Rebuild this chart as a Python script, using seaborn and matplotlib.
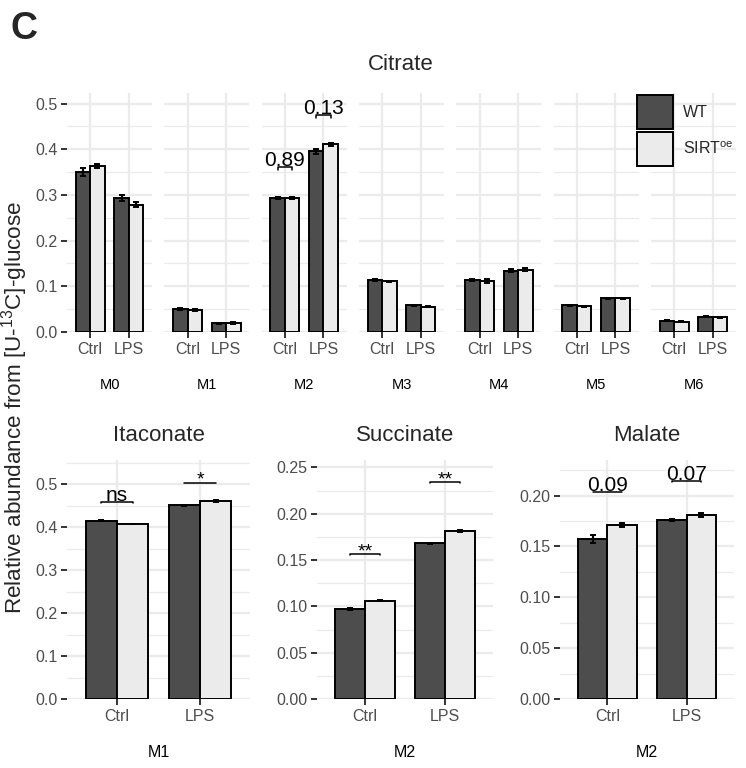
import numpy as np
import pandas as pd
import matplotlib
matplotlib.use('Agg')
import matplotlib.pyplot as plt
import seaborn as sns
from matplotlib.patches import Patch
from matplotlib.ticker import MultipleLocator

# data (mean and standard error)
conditions = ['Ctrl', 'LPS']
genotypes = ['WT', 'SIRToe']
isotopologues = ['M0', 'M1', 'M2', 'M3', 'M4', 'M5', 'M6']

citrate_wt_ctrl = [0.350, 0.050, 0.293, 0.114, 0.114, 0.058, 0.025]
citrate_oe_ctrl = [0.363, 0.048, 0.293, 0.111, 0.112, 0.056, 0.022]
citrate_wt_lps = [0.293, 0.019, 0.395, 0.058, 0.134, 0.074, 0.033]
citrate_oe_lps = [0.279, 0.019, 0.411, 0.055, 0.136, 0.074, 0.032]
citrate_se_wt_ctrl = [0.009, 0.002, 0.002, 0.002, 0.003, 0.002, 0.001]
citrate_se_oe_ctrl = [0.005, 0.003, 0.003, 0.001, 0.004, 0.001, 0.001]
citrate_se_wt_lps = [0.006, 0.001, 0.005, 0.001, 0.003, 0.001, 0.001]
citrate_se_oe_lps = [0.006, 0.002, 0.003, 0.001, 0.003, 0.001, 0.001]

# p-value annotations on citrate
citrate_annot_iso = ['M2', 'M2']
citrate_annot_cond = ['Ctrl', 'LPS']
citrate_annot_text = ['0.89', '0.13']
citrate_annot_y = [0.360, 0.475]

# other metabolites: one isotopologue each
other_names = ['Itaconate', 'Succinate', 'Malate']
other_iso = ['M1', 'M2', 'M2']
other_wt = [[0.415, 0.451], [0.097, 0.168], [0.157, 0.176]]
other_oe = [[0.407, 0.461], [0.106, 0.181], [0.171, 0.181]]
other_se_wt = [[0.002, 0.001], [0.001, 0.0006], [0.004, 0.001]]
other_se_oe = [[0.001, 0.002], [0.0006, 0.001], [0.002, 0.002]]
other_annot_text = [['ns', '*'], ['**', '**'], ['0.09', '0.07']]
other_annot_y = [[0.458, 0.503], [0.156, 0.234], [0.2036, 0.214]]
other_ylim = [0.556, 0.258, 0.235]
other_major = [0.1, 0.05, 0.05]

dark = '#4D4D4D'
light = '#EBEBEB'

sns.set_style('white')
plt.rcParams['font.family'] = ['Liberation Sans', 'DejaVu Sans']
plt.rcParams['mathtext.default'] = 'regular'

W, H = 746, 768
fig = plt.figure(figsize=(W / 100, H / 100), dpi=100)


def px_axes(left, top, right, bottom):
    return fig.add_axes([left / W, 1 - bottom / H, (right - left) / W, (bottom - top) / H])


def make_df(wt, oe, se_wt, se_oe):
    rows = []
    for c, v, s in zip(conditions, wt, se_wt):
        rows.append({'condition': c, 'genotype': 'WT', 'value': v, 'se': s})
    for c, v, s in zip(conditions, oe, se_oe):
        rows.append({'condition': c, 'genotype': 'SIRToe', 'value': v, 'se': s})
    return pd.DataFrame(rows)


def draw_panel(ax, df, ytop, major):
    sns.barplot(data=df, x='condition', y='value', hue='genotype', order=conditions,
                hue_order=genotypes, palette=[dark, light], width=0.75, errorbar=None,
                edgecolor='black', linewidth=1.4, legend=False, ax=ax, zorder=2)
    centers = {}
    for cont, g in zip(ax.containers, genotypes):
        sub = df[df.genotype == g].set_index('condition').loc[conditions]
        xs = [b.get_x() + b.get_width() / 2 for b in cont]
        centers[g] = dict(zip(conditions, xs))
        ax.errorbar(xs, sub['value'], yerr=sub['se'], fmt='none', ecolor='black',
                    elinewidth=1.6, capsize=2, capthick=1.4, zorder=3)
    ax.set_xlim(-0.6, 1.6)
    ax.set_ylim(0, ytop)
    ax.yaxis.set_major_locator(MultipleLocator(major))
    ax.yaxis.set_minor_locator(MultipleLocator(major / 2))
    ax.set_axisbelow(True)
    ax.grid(which='major', color='#EBEBEB', lw=1.6)
    ax.yaxis.grid(which='minor', color='#EBEBEB', lw=0.9)
    for sp in ax.spines.values():
        sp.set_visible(False)
    ax.tick_params(which='major', length=4, width=1.4, color='#333333',
                   labelsize=11.5, labelcolor='#4D4D4D', pad=3, left=True, bottom=True)
    ax.tick_params(which='minor', length=0)
    ax.set_ylabel('')
    return centers


def bracket(ax, centers, cond, y, text, tip):
    x1 = centers['WT'][cond]
    x2 = centers['SIRToe'][cond]
    ax.plot([x1, x1, x2, x2], [y - tip, y, y, y - tip], color='black', lw=1.1, zorder=4)
    star = text.startswith('*')
    ax.annotate(text, xy=((x1 + x2) / 2, y), xytext=(0, -1.5 if star else 0.8),
                textcoords='offset points', ha='center', va='baseline',
                fontsize=14 if star else 15, color='black')


# top row: citrate isotopologues
for i, iso in enumerate(isotopologues):
    left = 67 + i * 97.33
    ax = px_axes(left, 93, left + 85, 332)
    df = make_df([citrate_wt_ctrl[i], citrate_wt_lps[i]], [citrate_oe_ctrl[i], citrate_oe_lps[i]],
                 [citrate_se_wt_ctrl[i], citrate_se_wt_lps[i]], [citrate_se_oe_ctrl[i], citrate_se_oe_lps[i]])
    centers = draw_panel(ax, df, 0.523, 0.1)
    ax.set_xlabel(iso, fontsize=10.5, labelpad=15, color='black')
    if i > 0:
        ax.tick_params(axis='y', left=False, labelleft=False)
    for a_iso, a_cond, a_txt, a_y in zip(citrate_annot_iso, citrate_annot_cond,
                                         citrate_annot_text, citrate_annot_y):
        if a_iso == iso:
            bracket(ax, centers, a_cond, a_y, a_txt, 0.006)

fig.text(401 / W, 1 - 65 / H, 'Citrate', ha='center', va='center', fontsize=16)

# bottom row
bottom_lr = [(67, 250), (317, 493), (560, 734)]
for j, name in enumerate(other_names):
    l, r = bottom_lr[j]
    ax = px_axes(l, 460, r, 699)
    df = make_df(other_wt[j], other_oe[j], other_se_wt[j], other_se_oe[j])
    centers = draw_panel(ax, df, other_ylim[j], other_major[j])
    ax.set_xlabel(other_iso[j], fontsize=11.5, labelpad=15, color='black')
    ax.set_title(name, fontsize=16, pad=14)
    for cond, txt, y in zip(conditions, other_annot_text[j], other_annot_y[j]):
        bracket(ax, centers, cond, y, txt, other_ylim[j] * 0.002)

# legend
handles = [Patch(facecolor=dark, edgecolor='black', lw=1.4, label='WT'),
           Patch(facecolor=light, edgecolor='black', lw=1.4, label=r'SIRT$^{oe}$')]
fig.legend(handles=handles, loc='upper left', bbox_to_anchor=(637 / W, 1 - 95 / H),
           frameon=False, fontsize=11.5, handlelength=2.25, handleheight=2.9,
           handletextpad=0.6, labelspacing=0.2, borderpad=0, borderaxespad=0)

fig.text(15 / W, 1 - 407 / H, r'Relative abundance from [U-$^{13}$C]-glucose',
         rotation=90, ha='center', va='center', fontsize=16.2)
fig.text(10 / W, 1 - 29 / H, 'C', fontsize=27, fontweight='bold', ha='left', va='center')

fig.savefig('out.png', dpi=100)
